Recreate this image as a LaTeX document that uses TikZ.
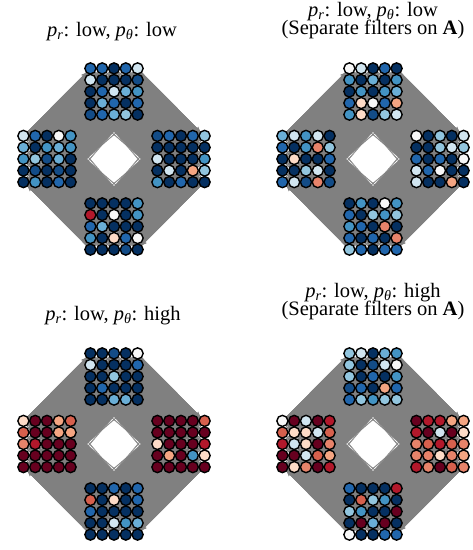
\documentclass[tikz,border=0pt]{standalone}
\usepackage{fontspec}
\setmainfont{Liberation Serif}
\usetikzlibrary{arrows.meta}
\pgfdeclarelayer{bg}
\pgfsetlayers{bg,main}
\definecolor{cN}{HTML}{053061}
\definecolor{cB}{HTML}{134C87}
\definecolor{cD}{HTML}{2166AC}
\definecolor{cM}{HTML}{4393C3}
\definecolor{cQ}{HTML}{6AAED6}
\definecolor{cL}{HTML}{92C5DE}
\definecolor{cP}{HTML}{D1E5F0}
\definecolor{cW}{HTML}{F7F7F7}
\definecolor{cK}{HTML}{FDDBC7}
\definecolor{cS}{HTML}{F4A582}
\definecolor{cO}{HTML}{E7836A}
\definecolor{cR}{HTML}{D6604D}
\definecolor{cE}{HTML}{B2182B}
\definecolor{cX}{HTML}{67001F}
\definecolor{edgegray}{HTML}{808080}
\def\sh{3.2}
\newcommand\ttlfont{\fontsize{20.5}{18.3}\selectfont\lineskiplimit=-30pt\relax}
\tikzset{
  dot/.style={circle, draw=black, line width=1.4pt, minimum size=11.1pt, inner sep=0pt},
  edge/.style={draw=edgegray, line width=0.5pt},
  arr/.style={-{Stealth[length=5pt,width=4pt]}},
  band/.style={fill=edgegray},
  ttl/.style={font=\ttlfont, align=center, inner sep=0pt}
}
\newcommand\pr{\textit{p}\textsubscript{\textit{r}}}
\newcommand\pth{\textit{p}\textsubscript{\textit{θ}}}
\newcommand\mkcluster[4]{%
  \foreach \col [count=\k from 0] in {#4} {
    \pgfmathtruncatemacro\rr{div(\k,5)}
    \pgfmathtruncatemacro\cc{mod(\k,5)}
    \node[dot, fill=c\col] (#1-\rr-\cc) at ({#2+(\cc-2)*11.8},{-(#3)-(\rr-2)*11.55}) {};
  }%
}
% #3: index sum measured toward the centre of the panel
\newcommand\mkedges[3]{%
  \foreach \i in {0,...,4}{\foreach \j in {0,...,4}{\foreach \m in {0,...,4}{\foreach \n in {0,...,4}{
    \pgfmathtruncatemacro\s{mod(#3,3)}
    \ifnum\s=0 \draw[edge] (#1-\i-\j) -- (#2-\m-\n);\fi
  }}}}%
}
\newcommand\mkpanel[7]{%
  \mkcluster{#1t}{#2}{#3-67.5}{#4}
  \mkcluster{#1l}{#2-67}{#3}{#5}
  \mkcluster{#1r}{#2+67}{#3}{#6}
  \mkcluster{#1b}{#2}{#3+67.5}{#7}
  \begin{pgfonlayer}{bg}
    \fill[band] (#1l-0-0.center) -- (#1t-0-0.center) -- ([shift={(-\sh,\sh)}]#1t-4-4.center) -- ([shift={(-\sh,\sh)}]#1l-4-4.center) -- cycle;
    \fill[band] (#1t-0-4.center) -- (#1r-0-4.center) -- ([shift={(\sh,\sh)}]#1r-4-0.center) -- ([shift={(\sh,\sh)}]#1t-4-0.center) -- cycle;
    \fill[band] (#1r-4-4.center) -- (#1b-4-4.center) -- ([shift={(\sh,-\sh)}]#1b-0-0.center) -- ([shift={(\sh,-\sh)}]#1r-0-0.center) -- cycle;
    \fill[band] (#1b-4-0.center) -- (#1l-4-0.center) -- ([shift={(-\sh,-\sh)}]#1l-0-4.center) -- ([shift={(-\sh,-\sh)}]#1b-0-4.center) -- cycle;
    \mkedges{#1l}{#1t}{\i+\j+\m+\n}
    \mkedges{#1t}{#1r}{\i+4-\j+\m+4-\n}
    \mkedges{#1r}{#1b}{16-\i-\j-\m-\n}
    \mkedges{#1b}{#1l}{4-\i+\j+4-\m+\n}
    \foreach \u in {0,...,4}{\foreach \v in {0,...,4}{
      \draw[edge,arr] (#1l-0-\u) -- (#1t-\v-0);
      \draw[edge,arr] (#1t-\u-4) -- (#1r-0-\v);
      \draw[edge,arr] (#1r-4-\u) -- (#1b-\v-4);
      \draw[edge,arr] (#1b-\u-0) -- (#1l-4-\v);
    }}
  \end{pgfonlayer}
}
\begin{document}
\begin{tikzpicture}[x=1pt,y=1pt]
\useasboundingbox (0,0) rectangle (473,-550);
\begin{pgfonlayer}{bg}
\fill[white] (0,0) rectangle (473,-550);
\end{pgfonlayer}
% titles
\node[ttl, anchor=base] (t1) at (112,-36.5) {\pr: low, \pth: low};
\node[ttl, anchor=base] (t2) at (373,-34.3) {\pr: low, \pth: low\\(Separate filters on \textbf{A})};
\node[ttl, anchor=base] (t3) at (113,-320.5) {\pr: low, \pth: high};
\node[ttl, anchor=base] (t4) at (373,-315.3) {\pr: low, \pth: high\\(Separate filters on \textbf{A})};
% panel 1
\mkpanel{a}{114}{159}
 {D,D,N,D,P, P,N,N,N,B, N,D,P,Q,M, N,Q,D,N,D, B,D,Q,L,N}
 {P,D,N,W,M, Q,N,M,Q,M, M,L,B,Q,N, N,B,N,B,N, N,M,N,D,N}
 {B,D,N,D,L, N,N,N,N,N, P,N,N,N,M, N,P,N,S,L, M,N,D,N,N}
 {N,N,N,N,M, E,N,W,N,M, D,Q,N,N,N, M,N,K,D,W, N,N,N,B,N}
% panel 2
\mkpanel{b}{373}{159}
 {W,P,N,D,N, M,N,Q,N,M, N,M,N,M,Q, D,K,W,D,S, M,K,B,L,P}
 {Q,P,M,P,N, D,N,M,O,L, N,K,N,N,D, N,N,L,P,N, D,P,B,O,B}
 {W,N,L,N,P, N,N,L,P,L, D,N,D,N,W, P,D,W,N,N, P,N,N,S,N}
 {N,M,N,W,M, D,N,L,M,L, M,D,N,O,N, D,N,D,N,O, L,D,N,D,D}
% panel 3
\mkpanel{c}{114}{444}
 {N,N,B,N,W, P,N,N,N,D, N,N,L,N,N, N,D,N,N,N, N,N,Q,Q,N}
 {K,X,X,S,R, R,X,X,S,S, O,E,X,X,X, X,X,X,X,X, X,X,X,X,X}
 {X,X,X,X,R, X,X,X,X,X, K,X,X,X,E, X,S,X,M,K, X,X,X,X,X}
 {N,N,D,N,D, R,N,K,N,D, D,N,N,N,N, N,N,P,M,Q, N,N,N,N,N}
% panel 4
\mkpanel{d}{373}{444}
 {L,P,N,Q,M, L,N,B,P,W, L,N,D,N,M, B,D,N,S,D, D,L,M,L,L}
 {W,X,P,X,E, R,K,K,P,R, E,P,K,X,O, X,X,P,R,S, X,K,O,X,E}
 {X,E,E,S,S, E,X,P,X,K, O,R,E,R,O, O,O,K,O,S, E,O,X,R,O}
 {D,N,N,N,E, N,R,L,M,N, L,M,N,N,X, N,X,Q,X,N, W,N,N,D,D}
\end{tikzpicture}
\end{document}
